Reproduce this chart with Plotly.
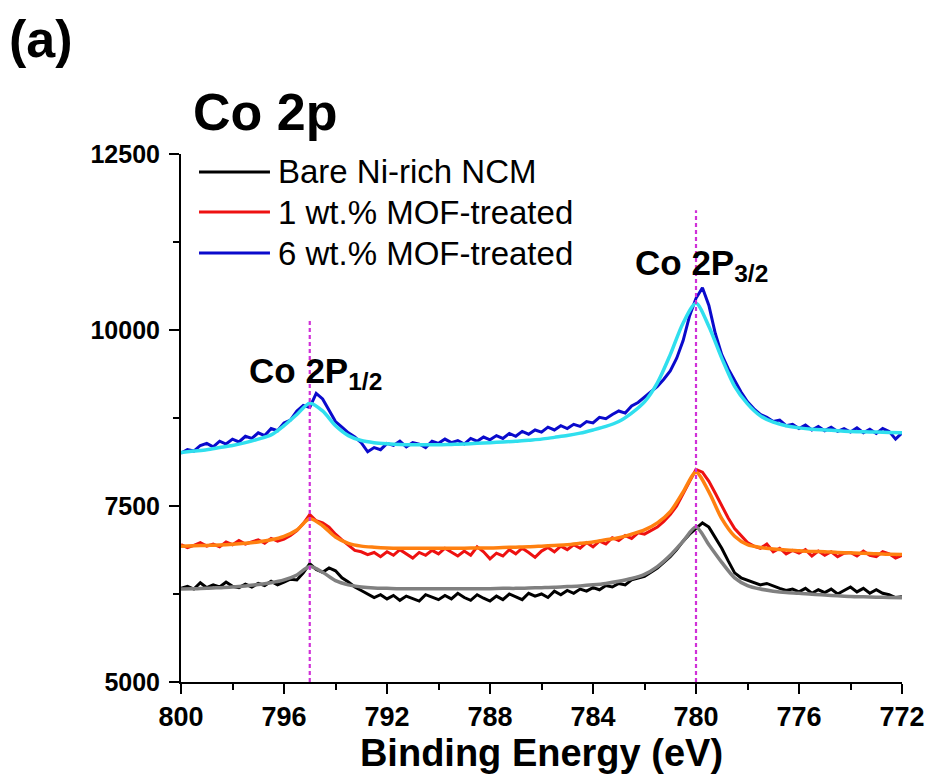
import plotly.graph_objects as go

# ---------------- data ----------------
series_names = ["Bare Ni-rich NCM", "1 wt.% MOF-treated", "6 wt.% MOF-treated"]

# raw spectra, sampled every 0.25 eV from 800 eV down to 772 eV (one row per eV)
bare_raw = [
    6330, 6360, 6320, 6410,  # 800
    6340, 6380, 6350, 6420,  # 799
    6360, 6340, 6390, 6350,  # 798
    6400, 6370, 6430, 6380,  # 797
    6420, 6460, 6450, 6550,  # 796
    6680, 6600, 6560, 6620,  # 795
    6580, 6480, 6420, 6350,  # 794
    6300, 6250, 6200, 6240,  # 793
    6180, 6230, 6160, 6220,  # 792
    6190, 6150, 6240, 6200,  # 791
    6170, 6230, 6180, 6260,  # 790
    6200, 6160, 6240, 6190,  # 789
    6150, 6220, 6170, 6250,  # 788
    6210, 6170, 6260, 6220,  # 787
    6250, 6200, 6290, 6240,  # 786
    6300, 6260, 6320, 6290,  # 785
    6340, 6310, 6370, 6350,  # 784
    6400, 6380, 6450, 6480,  # 783
    6500, 6560, 6620, 6700,  # 782
    6780, 6880, 7000, 7100,  # 781
    7180, 7260, 7200, 7050,  # 780
    6900, 6720, 6550, 6480,  # 779
    6450, 6420, 6380, 6400,  # 778
    6360, 6330, 6300, 6320,  # 777
    6280, 6330, 6260, 6310,  # 776
    6270, 6320, 6250, 6300,  # 775
    6350, 6280, 6330, 6260,  # 774
    6310, 6260, 6240, 6200,  # 773
    6210,                    # 772
]

mof1_raw = [
    6950, 6910, 6940, 6980,  # 800
    6930, 6960, 6920, 6990,  # 799
    6950, 7010, 6960, 6990,  # 798
    7020, 6970, 7040, 7000,  # 797
    7030, 7080, 7150, 7250,  # 796
    7380, 7290, 7260, 7200,  # 795
    7100, 7020, 6940, 6870,  # 794
    6850, 6810, 6840, 6780,  # 793
    6850, 6800, 6880, 6820,  # 792
    6760, 6840, 6800, 6870,  # 791
    6820, 6900, 6840, 6790,  # 790
    6860, 6800, 6920, 6850,  # 789
    6750, 6830, 6790, 6880,  # 788
    6820, 6900, 6840, 6770,  # 787
    6860, 6910, 6850, 6930,  # 786
    6880, 6950, 6900, 6980,  # 785
    6920, 7000, 6960, 7050,  # 784
    7010, 7080, 7040, 7120,  # 783
    7100, 7150, 7200, 7280,  # 782
    7380, 7500, 7680, 7850,  # 781
    8020, 7980, 7850, 7680,  # 780
    7500, 7330, 7180, 7080,  # 779
    6980, 6930, 6900, 6960,  # 778
    6850, 6900, 6820, 6870,  # 777
    6830, 6880, 6790, 6860,  # 776
    6800, 6850, 6780, 6830,  # 775
    6840, 6790, 6860, 6800,  # 774
    6780, 6850, 6820, 6760,  # 773
    6800,                    # 772
]

mof6_raw = [
    8250, 8300, 8280, 8360,  # 800
    8390, 8340, 8420, 8380,  # 799
    8450, 8410, 8490, 8460,  # 798
    8540, 8500, 8600, 8570,  # 797
    8680, 8720, 8850, 8930,  # 796
    8900, 9100, 9020, 8850,  # 795
    8700, 8620, 8540, 8480,  # 794
    8400, 8270, 8330, 8300,  # 793
    8390, 8360, 8420, 8340,  # 792
    8400, 8380, 8330, 8420,  # 791
    8390, 8450, 8400, 8430,  # 790
    8380, 8460, 8420, 8480,  # 789
    8440, 8500, 8460, 8530,  # 788
    8490, 8560, 8520, 8580,  # 787
    8550, 8620, 8580, 8640,  # 786
    8600, 8660, 8630, 8700,  # 785
    8680, 8760, 8740, 8800,  # 784
    8850, 8820, 8920, 8970,  # 783
    9050, 9120, 9200, 9300,  # 782
    9420, 9600, 9850, 10200, # 781
    10450, 10600, 10350, 9950,  # 780
    9650, 9450, 9280, 9120,  # 779
    8980, 8880, 8800, 8760,  # 778
    8700, 8720, 8640, 8660,  # 777
    8600, 8650, 8580, 8630,  # 776
    8570, 8620, 8560, 8600,  # 775
    8550, 8610, 8540, 8590,  # 774
    8530, 8600, 8560, 8450,  # 773
    8540,                    # 772
]

# fitted envelopes, sampled every 0.5 eV from 800 eV down to 772 eV
bare_fit = [
    6320, 6325, 6330, 6340, 6350, 6365, 6385, 6410,   # 800-796.5
    6450, 6520, 6640, 6560, 6440, 6380, 6350, 6335,   # 796-792.5
    6330, 6325, 6325, 6325, 6325, 6325, 6325, 6325,   # 792-788.5
    6325, 6330, 6330, 6335, 6340, 6345, 6355, 6365,   # 788-784.5
    6380, 6400, 6430, 6470, 6530, 6640, 6800, 7000,   # 784-780.5
    7200, 6950, 6700, 6480, 6370, 6320, 6290, 6270,   # 780-776.5
    6260, 6245, 6235, 6225, 6215, 6210, 6205, 6200,   # 776-772.5
    6195,                                             # 772
]

mof1_fit = [
    6930, 6935, 6940, 6945, 6955, 6970, 6990, 7020,
    7070, 7160, 7320, 7220, 7060, 6970, 6930, 6915,
    6905, 6900, 6900, 6900, 6900, 6900, 6900, 6905,
    6905, 6910, 6915, 6920, 6930, 6940, 6950, 6970,
    6990, 7020, 7050, 7100, 7160, 7260, 7420, 7700,
    7980, 7700, 7320, 7070, 6950, 6910, 6890, 6875,
    6865, 6855, 6850, 6840, 6835, 6830, 6820, 6815,
    6810,
]

mof6_fit = [
    8260, 8280, 8300, 8330, 8360, 8400, 8450, 8510,
    8640, 8800, 8960, 8850, 8640, 8500, 8430, 8400,
    8385, 8375, 8370, 8370, 8370, 8375, 8380, 8390,
    8400, 8410, 8420, 8435, 8450, 8475, 8500, 8535,
    8580, 8630, 8700, 8820, 8980, 9250, 9650, 10100,
    10380, 10050, 9600, 9200, 8950, 8780, 8690, 8640,
    8610, 8590, 8580, 8570, 8560, 8555, 8550, 8545,
    8540,
]

peak_positions = [795.0, 780.0]
peak_tops = [10170, 11700]
peak_main = ["Co 2P", "Co 2P"]
peak_sub = ["1/2", "3/2"]

x_ticks = [800, 796, 792, 788, 784, 780, 776, 772]
y_ticks = [5000, 7500, 10000, 12500]
y_ticktext = ["5000", "7500", "10000", "12500"]

# ---------------- styles ----------------
raw_colors = ["#000000", "#ee1111", "#0a0acc"]
fit_colors = ["#808080", "#ff8010", "#30dfee"]
FONT = "Liberation Sans, Arial, Helvetica, sans-serif"

be_raw = [800 - 0.25 * i for i in range(len(bare_raw))]
be_fit = [800 - 0.5 * i for i in range(len(bare_fit))]

fig = go.Figure()
raws = [bare_raw, mof1_raw, mof6_raw]
fits = [bare_fit, mof1_fit, mof6_fit]
for name, r, f, rc, fc in zip(series_names, raws, fits, raw_colors, fit_colors):
    fig.add_trace(go.Scatter(x=be_raw, y=r, mode="lines", name=name,
                             line=dict(color=rc, width=3), showlegend=False))
    fig.add_trace(go.Scatter(x=be_fit, y=f, mode="lines", name=name + " fit",
                             line=dict(color=fc, width=3.5, shape="spline", smoothing=0.8),
                             showlegend=False))

# dotted peak markers
for xp, yt in zip(peak_positions, peak_tops):
    fig.add_shape(type="line", xref="x", yref="y", x0=xp, x1=xp, y0=5000, y1=yt,
                  line=dict(color="#d030d8", width=2.2, dash="4px,3px"), layer="above")

# peak labels
label_pos = [(797.45, 0.585), (782.45, 0.79)]
for (lx, ly), main, sub in zip(label_pos, peak_main, peak_sub):
    txt = f"{main}<sub>{sub}</sub>"
    fig.add_annotation(x=lx, y=ly, xref="x", yref="paper", text=txt, showarrow=False,
                       xanchor="left", yanchor="middle",
                       font=dict(family=FONT, size=35, color="black", weight="bold"))

# manual legend
leg_y = [0.966, 0.890, 0.8125]
for name, col, yy in zip(series_names, raw_colors, leg_y):
    fig.add_shape(type="line", xref="paper", yref="paper", x0=0.025, x1=0.1234,
                  y0=yy, y1=yy, line=dict(color=col, width=3))
    fig.add_annotation(x=0.132, y=yy, xref="paper", yref="paper", text=name,
                       showarrow=False, xanchor="left", yanchor="middle",
                       font=dict(family=FONT, size=33, color="black"))

# panel label and element title
fig.add_annotation(x=-0.242, y=1.218, xref="paper", yref="paper", text="(a)",
                   showarrow=False, xanchor="left", yanchor="middle",
                   font=dict(family=FONT, size=52, color="black", weight="bold"))
fig.add_annotation(x=0.014, y=1.08, xref="paper", yref="paper", text="Co 2p",
                   showarrow=False, xanchor="left", yanchor="middle",
                   font=dict(family=FONT, size=52, color="black", weight="bold"))

fig.update_layout(
    width=928, height=778,
    margin=dict(l=181, r=26, t=154, b=96),
    paper_bgcolor="white", plot_bgcolor="white",
    showlegend=False,
)
fig.update_xaxes(
    range=[800, 772], tickvals=x_ticks, ticks="outside", ticklen=10, tickwidth=2,
    tickcolor="black", showline=True, linecolor="black", linewidth=2,
    showgrid=False, zeroline=False, automargin=False,
    tickfont=dict(family=FONT, size=27, color="black", weight="bold"),
    minor=dict(dtick=2, tick0=800, ticks="outside", ticklen=6, tickwidth=2, tickcolor="black", showgrid=False),
    title=dict(text="Binding Energy (eV)", standoff=4,
               font=dict(family=FONT, size=38, color="black", weight="bold")),
)
fig.update_yaxes(
    range=[5000, 12500], tickvals=y_ticks, ticktext=y_ticktext, ticks="outside",
    ticklen=10, tickwidth=2,
    tickcolor="black", showline=True, linecolor="black", linewidth=2,
    showgrid=False, zeroline=False, ticklabelstandoff=4, automargin=False,
    tickfont=dict(family=FONT, size=25, color="black", weight="bold"),
    minor=dict(dtick=1250, tick0=5000, ticks="outside", ticklen=6, tickwidth=2, tickcolor="black", showgrid=False),
)

fig.write_html("out.html", config={"displayModeBar": False},
               post_script="document.body.style.margin='0';document.body.style.overflow='hidden';")
